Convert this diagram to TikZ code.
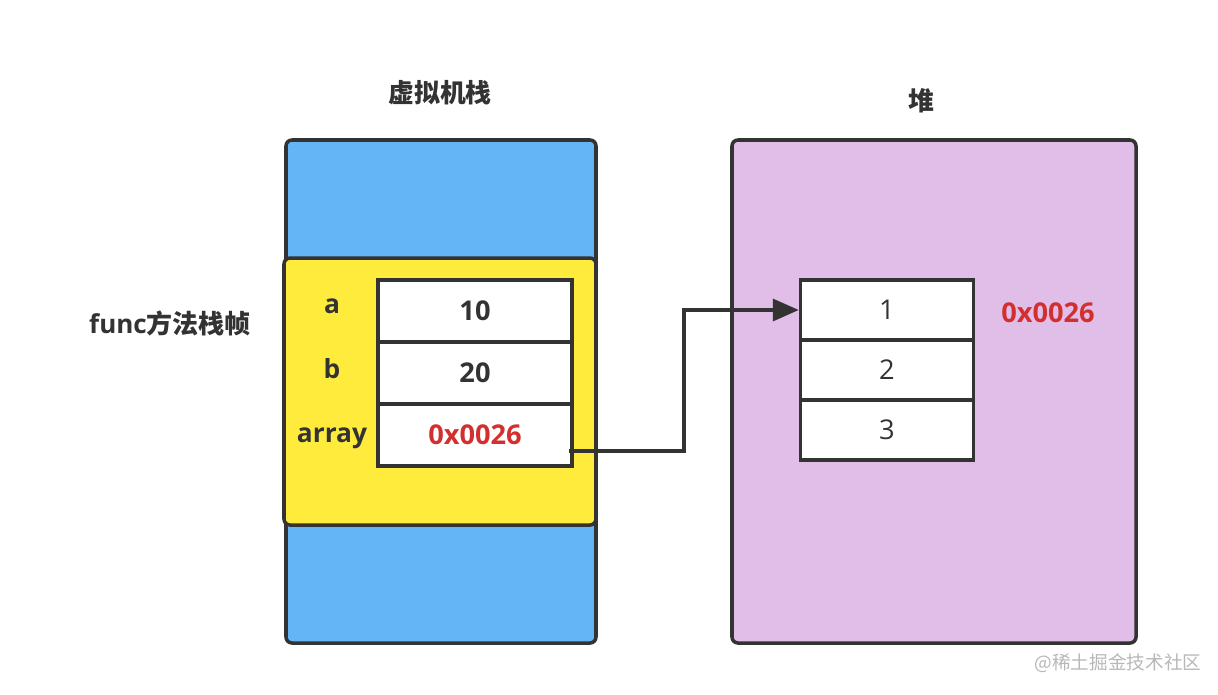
\documentclass[tikz,border=0pt]{standalone}
\usepackage{fontspec}
\setmainfont{Open Sans}
\newfontfamily\cjk{Noto Sans CJK SC}
\usetikzlibrary{arrows.meta,calc}
\definecolor{stackblue}{HTML}{64B5F6}
\definecolor{frameyellow}{HTML}{FFEB3B}
\definecolor{heappink}{HTML}{E1BEE7}
\definecolor{edge}{HTML}{333333}
\definecolor{addrred}{HTML}{D32F2F}
\tikzset{
  area/.style={draw=edge,line width=2pt,rounded corners=0.12cm},
  stackcell/.style={draw=edge,line width=2pt,fill=white,inner sep=0pt,
    minimum width=3.88cm,minimum height=1.24cm,text=edge,
    font=\bfseries\fontsize{15.5}{18}\selectfont},
  heapcell/.style={stackcell,minimum width=3.46cm,minimum height=1.2cm,
    font=\fontsize{15.5}{18}\selectfont},
  varname/.style={anchor=base,text=edge,font=\bfseries\fontsize{15}{18}\selectfont},
  title/.style={text=edge,font=\cjk\bfseries\fontsize{14.7}{17}\selectfont},
  link/.style={draw=edge,line width=2pt,-{Triangle[length=0.52cm,width=0.44cm]}}
}
\begin{document}
\begin{tikzpicture}[x=0.02cm,y=-0.02cm]
  \useasboundingbox[fill=white] (0,0) rectangle (1218,694);

  % stack and heap areas
  \draw[area,fill=stackblue] (286,140) rectangle (596,643);
  \draw[area,fill=frameyellow] (284,258) rectangle (596,525);
  \draw[area,fill=heappink] (732,140) rectangle (1136,643);

  \node[title] (stacktitle) at (440,93) {虚拟机栈};
  \node[title] (heaptitle) at (921,101) {堆};
  \node[text=edge,font=\bfseries\fontsize{14.8}{18}\selectfont] (frame) at (170,323)
    {func{\cjk 方法栈帧}};

  % local variables
  \foreach \n/\y in {a/313,b/378,array/442}
    \node[varname] (n-\n) at (332,\y) {\n};
  \foreach \v/\c [count=\i] in {10/edge,20/edge,0x0026/addrred}
    \node[stackcell,text=\c] (v\i) at (475,249+62*\i) {\v};

  % array on the heap
  \foreach \v [count=\i] in {1,2,3}
    \node[heapcell] (h\i) at (887,250+60*\i) {\v};
  \node[text=addrred,font=\bfseries\fontsize{15.5}{18}\selectfont] (addr) at (1048,313) {0x0026};

  \coordinate (src) at (569,451);
  \coordinate (bend) at ($(src)!0.5!(h1.west)$);
  \draw[link] (src) -| (bend) |- (h1.west);

  \node[text=black!28,font=\cjk\fontsize{10.6}{13}\selectfont] (mark) at (1118,663) {@稀土掘金技术社区};
\end{tikzpicture}
\end{document}
